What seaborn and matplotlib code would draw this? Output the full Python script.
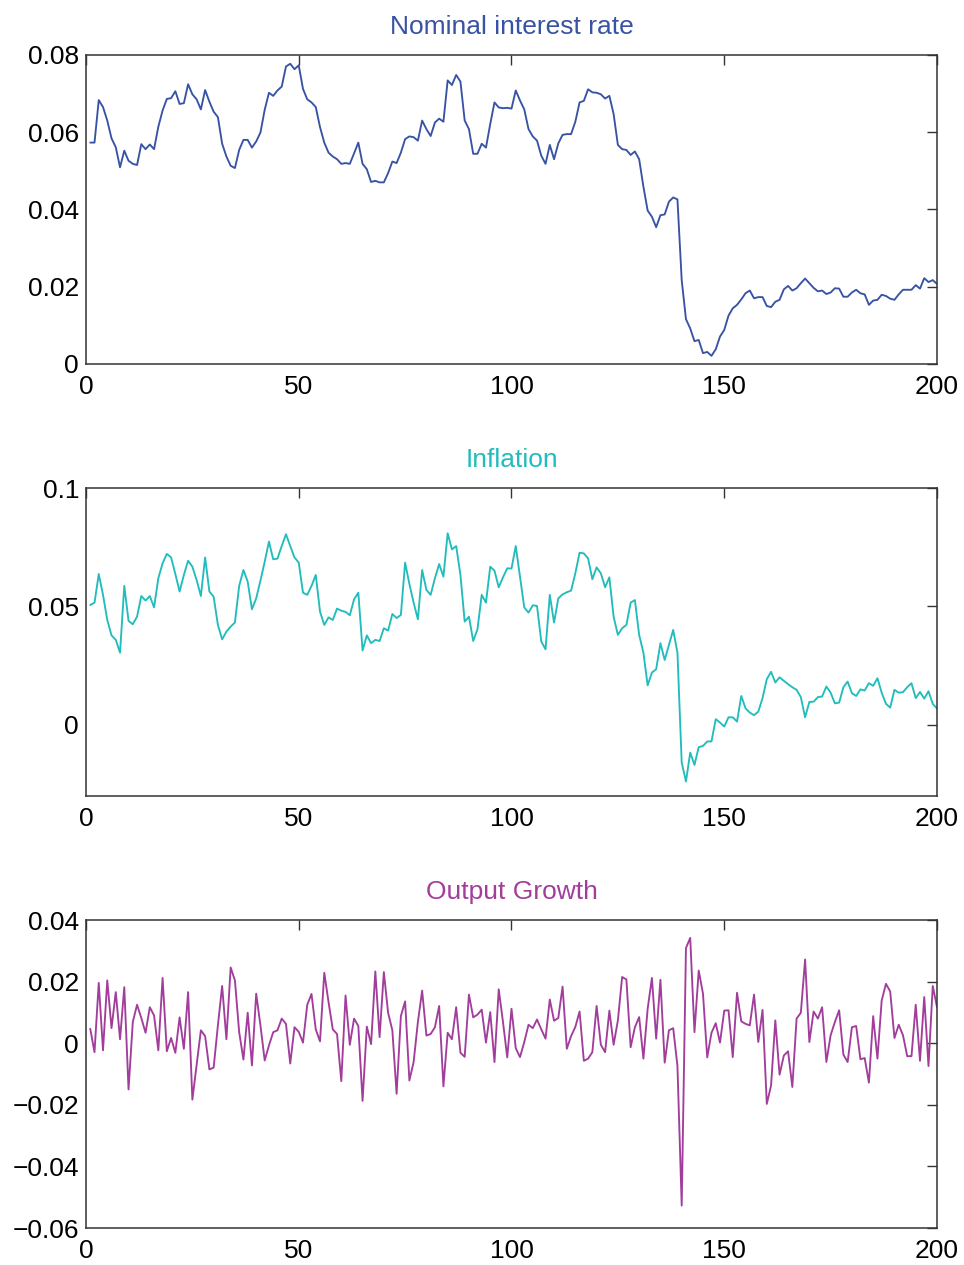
import numpy as np
import matplotlib
matplotlib.use('Agg')
import matplotlib.pyplot as plt
import seaborn as sns
from matplotlib.ticker import FuncFormatter

# values, periods 1..200
periods = list(range(1, 201))

rate = [0.0573, 0.0573, 0.0683, 0.0665, 0.063, 0.0584, 0.0561, 0.0509, 0.0552, 0.0526,
        0.0518, 0.0515, 0.0569, 0.0556, 0.0568, 0.0556, 0.0614, 0.0656, 0.0686, 0.0688,
        0.0706, 0.0673, 0.0675, 0.0724, 0.0698, 0.0685, 0.0659, 0.0709, 0.0679, 0.0653,
        0.0639, 0.057, 0.0537, 0.0513, 0.0507, 0.0554, 0.058, 0.058, 0.056, 0.0576,
        0.0599, 0.0658, 0.0702, 0.0694, 0.0708, 0.0718, 0.077, 0.0777, 0.0763, 0.0773,
        0.0712, 0.0685, 0.0677, 0.0665, 0.0613, 0.0573, 0.0547, 0.0537, 0.053, 0.0518,
        0.052, 0.0518, 0.0545, 0.0573, 0.0518, 0.0504, 0.0471, 0.0474, 0.047, 0.047,
        0.0494, 0.0524, 0.052, 0.0547, 0.0582, 0.0589, 0.0587, 0.0578, 0.063, 0.0608,
        0.059, 0.0625, 0.0635, 0.0627, 0.0734, 0.0722, 0.0748, 0.0731, 0.063, 0.0608,
        0.0544, 0.0544, 0.057, 0.056, 0.0621, 0.0677, 0.0664, 0.0662, 0.0663, 0.0661,
        0.0708, 0.0682, 0.0659, 0.0608, 0.0589, 0.0578, 0.0539, 0.0518, 0.0567, 0.053,
        0.0571, 0.0593, 0.0595, 0.0595, 0.0627, 0.0677, 0.0681, 0.0711, 0.0703, 0.0702,
        0.0698, 0.0687, 0.0694, 0.0647, 0.0567, 0.0556, 0.0554, 0.0541, 0.055, 0.053,
        0.0459, 0.0397, 0.0381, 0.0354, 0.0385, 0.0387, 0.042, 0.0431, 0.0426, 0.0217,
        0.0116, 0.0092, 0.0059, 0.0062, 0.0028, 0.0031, 0.0021, 0.0038, 0.0071, 0.0088,
        0.0125, 0.0144, 0.0153, 0.0167, 0.0183, 0.019, 0.017, 0.0173, 0.0173, 0.015,
        0.0147, 0.0161, 0.0166, 0.0193, 0.0202, 0.019, 0.0196, 0.0209, 0.0221, 0.0209,
        0.0197, 0.0188, 0.019, 0.0181, 0.0185, 0.0196, 0.0195, 0.0174, 0.0174, 0.0185,
        0.0192, 0.0183, 0.018, 0.0153, 0.0164, 0.0166, 0.0179, 0.0176, 0.0169, 0.0166,
        0.018, 0.0192, 0.0192, 0.0192, 0.0204, 0.0195, 0.0222, 0.0212, 0.0217, 0.0207]

inflation = [0.0506, 0.0516, 0.0637, 0.0549, 0.0443, 0.0378, 0.0359, 0.0305, 0.0587, 0.0439,
             0.0425, 0.0457, 0.0544, 0.0525, 0.0544, 0.0496, 0.0619, 0.0682, 0.0722, 0.0707,
             0.0637, 0.0563, 0.0633, 0.0693, 0.0668, 0.0612, 0.0544, 0.0707, 0.0563, 0.0541,
             0.0422, 0.0361, 0.0394, 0.0415, 0.0432, 0.0587, 0.0654, 0.0605, 0.0488, 0.0534,
             0.0609, 0.0689, 0.0774, 0.0699, 0.0702, 0.0755, 0.0805, 0.0755, 0.0707, 0.0685,
             0.0558, 0.0549, 0.0587, 0.0633, 0.0478, 0.0422, 0.0454, 0.0443, 0.0491, 0.0482,
             0.0477, 0.0463, 0.053, 0.0558, 0.0314, 0.0378, 0.0345, 0.0359, 0.0354, 0.0408,
             0.0398, 0.0468, 0.0451, 0.0464, 0.0685, 0.0595, 0.0516, 0.0446, 0.0654, 0.057,
             0.0549, 0.0619, 0.0679, 0.0626, 0.0809, 0.0741, 0.0755, 0.0633, 0.0436, 0.0457,
             0.0354, 0.0404, 0.0549, 0.0516, 0.0668, 0.0651, 0.0581, 0.0623, 0.0661, 0.066,
             0.0755, 0.0626, 0.0496, 0.0474, 0.0505, 0.0502, 0.0352, 0.0319, 0.0549, 0.0432,
             0.0534, 0.0551, 0.056, 0.0567, 0.064, 0.0727, 0.0724, 0.0703, 0.0615, 0.0665,
             0.064, 0.0581, 0.0623, 0.0457, 0.038, 0.0408, 0.0422, 0.0516, 0.0527, 0.038,
             0.0305, 0.0167, 0.0221, 0.0235, 0.0345, 0.0274, 0.0338, 0.0401, 0.0305, -0.0159,
             -0.0239, -0.0117, -0.0169, -0.0094, -0.0089, -0.007, -0.007, 0.0024, 0.001, -0.0007,
             0.0032, 0.0032, 0.0014, 0.0122, 0.007, 0.0052, 0.0041, 0.0056, 0.0113, 0.0193,
             0.0224, 0.0179, 0.0201, 0.0186, 0.0172, 0.0159, 0.0148, 0.0117, 0.0032, 0.0097,
             0.0098, 0.0117, 0.012, 0.0162, 0.0136, 0.0091, 0.0094, 0.0159, 0.0183, 0.0134,
             0.0122, 0.015, 0.0145, 0.0176, 0.0165, 0.0197, 0.0136, 0.0089, 0.0073, 0.0148,
             0.0136, 0.0138, 0.0159, 0.0176, 0.0113, 0.0139, 0.0111, 0.0142, 0.0089, 0.0069]

output = [0.0047, -0.0029, 0.0196, -0.0023, 0.0204, 0.0049, 0.0166, 0.0013, 0.0182, -0.015,
          0.0069, 0.0125, 0.0082, 0.0034, 0.0117, 0.009, -0.0023, 0.0212, -0.0026, 0.0017,
          -0.0031, 0.0084, -0.0018, 0.0166, -0.0183, -0.007, 0.0042, 0.0023, -0.0085, -0.0079,
          0.0058, 0.0186, 0.0013, 0.0246, 0.0204, 0.0036, -0.0053, 0.0099, -0.0072, 0.0161,
          0.0058, -0.0056, -0.0007, 0.0036, 0.0042, 0.008, 0.0063, -0.0066, 0.0052, 0.0037,
          0.0002, 0.0125, 0.016, 0.0045, 0.0006, 0.0229, 0.0134, 0.0045, 0.003, -0.0123,
          0.0155, -0.0005, 0.008, 0.0056, -0.0187, 0.0054, -0.0003, 0.0233, 0.002, 0.0231,
          0.0099, 0.0042, -0.0164, 0.0088, 0.0136, -0.0121, -0.0061, 0.0069, 0.0171, 0.0025,
          0.003, 0.0052, 0.0121, -0.014, 0.0034, 0.0013, 0.0117, -0.0031, -0.0044, 0.0158,
          0.0084, 0.0093, 0.0109, 0.0002, 0.0101, -0.0061, 0.0175, 0.0069, -0.0046, 0.0112,
          -0.0016, -0.0045, 0.0004, 0.006, 0.0049, 0.0077, 0.0045, 0.0015, 0.0142, 0.0073,
          0.0082, 0.0184, -0.0018, 0.0023, 0.0053, 0.0103, -0.0057, -0.005, -0.0029, 0.0121,
          -0.0005, -0.0029, 0.0106, -0.0005, 0.0074, 0.0215, 0.0207, -0.0013, 0.0052, 0.0085,
          -0.005, 0.0112, 0.0212, 0.0015, 0.0206, -0.0063, 0.0042, 0.0049, -0.0074, -0.0527,
          0.0309, 0.0342, 0.0036, 0.0236, 0.0161, -0.0046, 0.0034, 0.0065, 0.0002, 0.0106,
          0.0107, -0.0045, 0.0164, 0.0071, 0.0063, 0.0058, 0.0158, 0.0004, 0.0108, -0.0197,
          -0.0137, 0.0074, -0.0102, -0.004, -0.0026, -0.0142, 0.008, 0.0099, 0.0272, 0.0004,
          0.0103, 0.008, 0.0117, -0.0061, 0.0026, 0.0069, 0.0107, -0.0037, -0.0061, 0.0052,
          0.0056, -0.0052, -0.0048, -0.0128, 0.0088, -0.005, 0.0139, 0.0193, 0.0168, 0.0017,
          0.006, 0.0026, -0.0042, -0.0042, 0.0125, -0.0057, 0.015, -0.0074, 0.0186, 0.0117]

titles = ['Nominal interest rate', 'Inflation', 'Output Growth']
colors = ['#3853a4', '#22bcbc', '#a23d9c']
ylims = [(0, 0.08), (-0.03, 0.1), (-0.06, 0.04)]
yticks = [[0, 0.02, 0.04, 0.06, 0.08], [0, 0.05, 0.1], [-0.06, -0.04, -0.02, 0, 0.02, 0.04]]
xticks = [0, 50, 100, 150, 200]

sns.set_style('white')
plt.rcParams['font.family'] = ['Liberation Sans', 'DejaVu Sans']

fig = plt.figure(figsize=(9.64, 12.65), dpi=100)
# axes boxes [left, bottom, width, height] in figure fractions
boxes = [[0.0892, 0.7123, 0.8828, 0.2443],
         [0.0892, 0.3708, 0.8828, 0.2434],
         [0.0892, 0.0292, 0.8828, 0.2435]]

fmt = FuncFormatter(lambda v, p: ('%g' % v).replace('-', '\u2212'))

for series, title, col, yl, yt, box in zip([rate, inflation, output], titles, colors, ylims, yticks, boxes):
    ax = fig.add_axes(box)
    sns.lineplot(x=periods, y=series, ax=ax, color=col, linewidth=1.35)
    ax.set_xlim(0, 200)
    ax.set_ylim(*yl)
    ax.set_xticks(xticks)
    ax.set_yticks(yt)
    ax.yaxis.set_major_formatter(fmt)
    ax.tick_params(direction='in', length=7.5, width=1.0, top=True, right=True,
                   labelsize=19, colors='#333333', labelcolor='black')
    ax.tick_params(axis='x', pad=8)
    ax.tick_params(axis='y', pad=5)
    for s in ax.spines.values():
        s.set_color('#333333')
        s.set_linewidth(1.1)
    ax.set_title(title, color=col, fontsize=19, pad=15)

plt.savefig('out.png', dpi=100)
